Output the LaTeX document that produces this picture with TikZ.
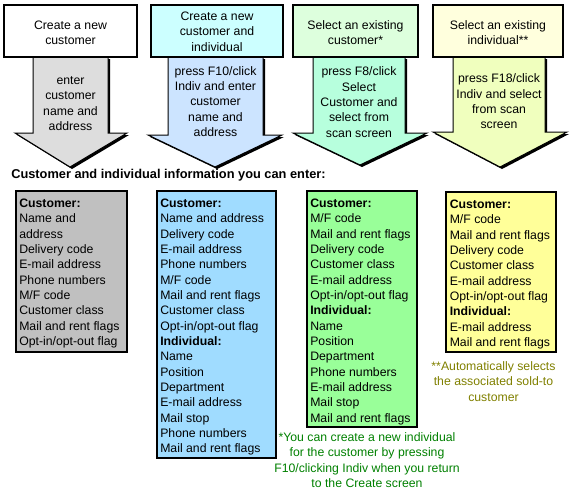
\documentclass[tikz,border=0pt]{standalone}
\usepackage{fontspec}
\setmainfont{Liberation Sans}
\usepackage{tikz}

\definecolor{topcyan}{RGB}{204,255,255}
\definecolor{topgreen}{RGB}{221,255,221}
\definecolor{topyellow}{RGB}{255,255,221}
\definecolor{arrgrey}{RGB}{221,221,221}
\definecolor{arrblue}{RGB}{204,228,255}
\definecolor{arrmint}{RGB}{183,255,221}
\definecolor{arrlime}{RGB}{240,255,190}
\definecolor{infogrey}{RGB}{192,192,192}
\definecolor{infoblue}{RGB}{160,220,255}
\definecolor{infogreen}{RGB}{153,255,153}
\definecolor{infoyellow}{RGB}{255,255,153}
\definecolor{notegreen}{RGB}{0,128,0}
\definecolor{noteolive}{RGB}{128,128,0}

\begin{document}
\begin{tikzpicture}[x=0.75pt,y=0.75pt,yscale=-1,xscale=1,
    every node/.style={inner sep=0.75pt, font=\fontsize{9.2}{11.5}\selectfont},
    boxline/.style={line width=1.5pt, preaction={fill=black, transform canvas={shift={(0.75pt,-0.75pt)}}}},
    arrowline/.style={line width=0.75pt, preaction={fill=black, transform canvas={shift={(1.5pt,-1.5pt)}}}},
    infotext/.style={anchor=north west, align=left, inner sep=0pt}]
    \useasboundingbox (0,0) rectangle (571,501);

    %Shape: Down Arrow [id:grey]
    \draw[arrowline, fill=arrgrey] (33,57) -- (33,133) -- (15,133) -- (70,167) -- (127,133) -- (108,133) -- (108,57) -- cycle ;
    %Shape: Down Arrow [id:blue]
    \draw[arrowline, fill=arrblue] (168,57) -- (168,135) -- (148,135) -- (215,167) -- (282,135) -- (263,135) -- (263,57) -- cycle ;
    %Shape: Down Arrow [id:mint]
    \draw[arrowline, fill=arrmint] (313,57) -- (313,133) -- (293,133) -- (360,165) -- (427,133) -- (405,133) -- (405,57) -- cycle ;
    %Shape: Down Arrow [id:lime]
    \draw[arrowline, fill=arrlime] (453,57) -- (453,132) -- (433,132) -- (500,167) -- (567,132) -- (545,132) -- (545,57) -- cycle ;

    %Shape: Rectangle [id:newcust]
    \draw[boxline, fill=white] (4,5) rectangle (137,57) ;
    %Shape: Rectangle [id:newindiv]
    \draw[boxline, fill=topcyan] (151,5) rectangle (283,57) ;
    %Shape: Rectangle [id:selcust]
    \draw[boxline, fill=topgreen] (293,5) rectangle (418,57) ;
    %Shape: Rectangle [id:selindiv]
    \draw[boxline, fill=topyellow] (433,5) rectangle (563,57) ;

    % Text Node
    \node[align=center] (newcust) at (70.5,33) {Create a new\\customer};
    % Text Node
    \node[align=center] (newindiv) at (217,31.5) {Create a new\\customer and\\individual};
    % Text Node
    \node[align=center] (selcust) at (355.5,32.5) {Select an existing\\customer*};
    % Text Node
    \node[align=center] (selindiv) at (498,32.5) {Select an existing\\individual**};

    % Text Node
    \node[align=center] (entercust) at (70.5,103.5) {enter\\customer\\name and\\address};
    % Text Node
    \node[align=center] (enterindiv) at (215.5,101.5) {press F10/click\\Indiv and enter\\customer\\name and\\address};
    % Text Node
    \node[align=center] (pickcust) at (359,102) {press F8/click\\Select\\Customer and\\select from\\scan screen};
    % Text Node
    \node[align=center] (pickindiv) at (499,101.5) {press F18/click\\Indiv and select\\from scan\\screen};

    % Text Node
    \node[anchor=west, font=\bfseries\fontsize{9.6}{11.5}\selectfont] (infohead) at (10,175) {Customer and individual information you can enter:};

    %Shape: Rectangle [id:custinfo]
    \draw[boxline, fill=infogrey] (16,191) rectangle (127,352) ;
    %Shape: Rectangle [id:bothinfo]
    \draw[boxline, fill=infoblue] (157,191) rectangle (276,458) ;
    %Shape: Rectangle [id:selcustinfo]
    \draw[boxline, fill=infogreen] (307,191) rectangle (417,427) ;
    %Shape: Rectangle [id:selindivinfo]
    \draw[boxline, fill=infoyellow] (446,192) rectangle (556,352) ;

    % Text Node
    \node[infotext] (custinfo) at (19,198.5) {\textbf{Customer:}\\Name and\\address\\Delivery code\\E-mail address\\Phone numbers\\M/F code\\Customer class\\Mail and rent flags\\Opt-in/opt-out flag};
    % Text Node
    \node[infotext] (bothinfo) at (160,198.5) {\textbf{Customer:}\\Name and address\\Delivery code\\E-mail address\\Phone numbers\\M/F code\\Mail and rent flags\\Customer class\\Opt-in/opt-out flag\\\textbf{Individual:}\\Name\\Position\\Department\\E-mail address\\Mail stop\\Phone numbers\\Mail and rent flags};
    % Text Node
    \node[infotext] (selcustinfo) at (310,198.5) {\textbf{Customer:}\\M/F code\\Mail and rent flags\\Delivery code\\Customer class\\E-mail address\\Opt-in/opt-out flag\\\textbf{Individual:}\\Name\\Position\\Department\\Phone numbers\\E-mail address\\Mail stop\\Mail and rent flags};
    % Text Node
    \node[infotext] (selindivinfo) at (449.5,199.5) {\textbf{Customer:}\\M/F code\\Mail and rent flags\\Delivery code\\Customer class\\E-mail address\\Opt-in/opt-out flag\\\textbf{Individual:}\\E-mail address\\Mail and rent flags};

    % Text Node
    \node[align=center, text=notegreen] (indivnote) at (367,460) {*You can create a new individual\\for the customer by pressing\\F10/clicking Indiv when you return\\to the Create screen};
    % Text Node
    \node[align=center, text=noteolive] (soldnote) at (493.5,381.5) {**Automatically selects\\the associated sold-to\\customer};

\end{tikzpicture}
\end{document}
